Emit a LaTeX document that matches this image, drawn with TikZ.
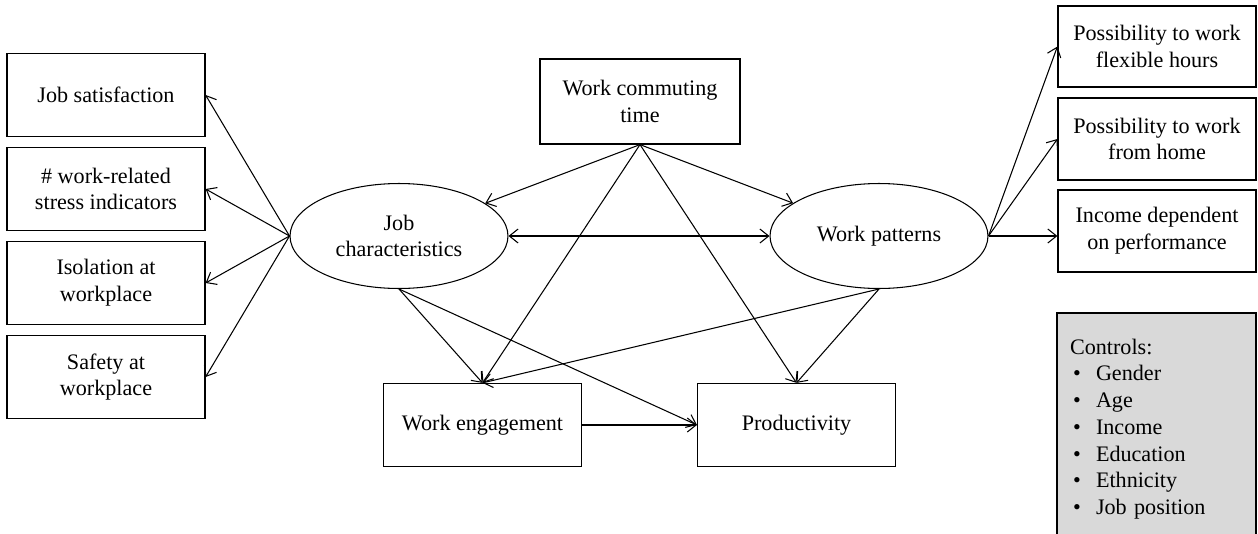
\documentclass[tikz,border=0pt]{standalone}
\usepackage{fontspec}
\setmainfont{Liberation Serif}
\usetikzlibrary{arrows.meta,shapes.geometric}
\newcommand{\ctrlitem}[1]{\hspace*{0.06cm}\makebox[0.46cm][l]{\textbullet}#1}

\begin{document}
\begin{tikzpicture}[
  x=0.02cm, y=-0.02cm,
  >={Straight Barb[length=5pt,width=8pt]},
  every node/.style = {font=\fontsize{12.6}{15.2}\selectfont, align=center, inner sep=0pt},
  box/.style = {rectangle, draw, line width=0.7pt, minimum width=3.96cm, minimum height=1.66cm},
  latent/.style = {ellipse, draw, line width=0.6pt, minimum width=4.36cm, minimum height=2.1cm},
  link/.style = {->, line width=0.6pt}
]
  \useasboundingbox (0,0) rectangle (1258,534);

  % indicators of job characteristics
  \node[box] (js) at (106,95) {Job satisfaction};
  \node[box] (stress) at (106,189) {\# work-related\\stress indicators};
  \node[box] (iso) at (106,283) {Isolation at\\workplace};
  \node[box] (safe) at (106,377) {Safety at\\workplace};

  % structural part
  \node[box, minimum width=4cm, minimum height=1.7cm] (cm) at (640,101.5) {Work commuting\\time};
  \node[latent] (jc) at (399,236) {Job\\characteristics};
  \node[latent] (wp) at (879,236) {Work patterns};
  \node[box] (we) at (482.5,425) {Work engagement};
  \node[box] (prod) at (796.5,425) {Productivity};

  % indicators of work patterns
  \node[box, minimum height=1.62cm] (flex) at (1157,46.5) {Possibility to work\\flexible hours};
  \node[box, minimum height=1.64cm] (home) at (1157,139) {Possibility to work\\from home};
  \node[box, minimum height=1.64cm] (inc) at (1157,231) {Income dependent\\on performance};

  \node[box, fill=black!15, minimum height=4.64cm, text width=3.46cm, inner xsep=0.26cm, align=left]
    (ctrl) at (1156.5,429)
    {Controls:\\ \ctrlitem{Gender}\\ \ctrlitem{Age}\\ \ctrlitem{Income}\\
     \ctrlitem{Education}\\ \ctrlitem{Ethnicity}\\ \ctrlitem{Job position}};

  \draw[link] (jc.west) -- (js.east);
  \draw[link] (jc.west) -- (stress.east);
  \draw[link] (jc.west) -- (iso.east);
  \draw[link] (jc.west) -- (safe.east);

  \draw[link] (cm.south) -- (jc);
  \draw[link] (cm.south) -- (wp);
  \draw[link] (cm.south) -- (we.north);
  \draw[link] (cm.south) -- (prod.north);
  \draw[link, <->] (jc) -- (wp);
  \draw[link] (jc.south) -- (we.north);
  \draw[link] (jc.south) -- (prod.west);
  \draw[link] (wp.south) -- (we.north);
  \draw[link] (wp.south) -- (prod.north);
  \draw[link] (we) -- (prod);

  \draw[link] (wp.east) -- (flex.west);
  \draw[link] (wp.east) -- (home.west);
  \draw[link] (wp.east) -- (wp.east -| inc.west);
\end{tikzpicture}
\end{document}
